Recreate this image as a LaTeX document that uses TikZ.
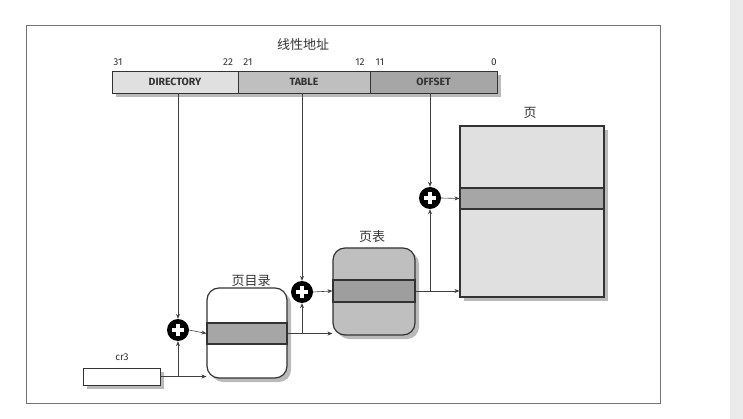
\documentclass[tikz,border=0pt]{standalone}
\usepackage{fontspec}
\setmainfont{Fira Sans}
\newfontfamily\cjk{Noto Sans CJK SC}
\usetikzlibrary{shadows,arrows.meta}
\definecolor{inkgray}{gray}{0.2}
\tikzset{
  bitno/.style={text=inkgray,font=\fontsize{10}{11}\selectfont,inner sep=0pt},
  field/.style={draw=inkgray,line width=0.9pt,minimum height=22pt,inner sep=0pt,
    text=inkgray,font=\bfseries\fontsize{10.5}{11}\selectfont},
  tblbox/.style={draw=inkgray,line width=1.2pt,inner sep=0pt,
    drop shadow={shadow xshift=4pt,shadow yshift=-4pt,fill=black!60,opacity=0.45}},
  tblrow/.style={draw=inkgray,line width=1.1pt,inner sep=0pt,fill=black!35},
  cjklabel/.style={text=inkgray,font=\cjk\fontsize{13}{14}\selectfont,inner sep=0pt},
  adder/.style={circle,fill=black,minimum size=22pt,inner sep=0pt,
    path picture={
      \draw[white,line width=3.8pt] ([xshift=-6pt]path picture bounding box.center) -- ([xshift=6pt]path picture bounding box.center);
      \draw[white,line width=3.8pt] ([yshift=-6pt]path picture bounding box.center) -- ([yshift=6pt]path picture bounding box.center);}},
  link/.style={draw=black!75,line width=0.6pt},
  linkto/.style={link,-{Stealth[length=5pt,width=4pt]}}
}
\begin{document}
\begin{tikzpicture}[x=1pt,y=-1pt]
\useasboundingbox (0,0) rectangle (743,419);
% page edge and frame
\fill[black!8] (730,0) rectangle (743,419);
\draw[black!55,line width=0.6pt] (26,25) rectangle (660,403);

% linear address
\node[cjklabel] (title) at (303,45) {线性地址};
\node[draw=none,minimum width=385pt,minimum height=22pt,inner sep=0pt,
  drop shadow={shadow xshift=4pt,shadow yshift=-4pt,fill=black!60,opacity=0.45},fill=white]
  (addr) at (304.5,82) {};
\node[field,fill=black!12,minimum width=126pt] (dirf) at (175,82) {DIRECTORY};
\node[field,fill=black!25,minimum width=132pt] (tabf) at (304,82) {TABLE};
\node[field,fill=black!35,minimum width=127pt] (offf) at (433.5,82) {OFFSET};
\node[bitno] (b31) at (118,62) {31};
\node[bitno] (b22) at (228,62) {22};
\node[bitno] (b21) at (248,62) {21};
\node[bitno] (b12) at (360,62) {12};
\node[bitno] (b11) at (380,62) {11};
\node[bitno] (b0) at (494,62) {0};

% cr3
\node[tblbox,fill=white,line width=0.9pt,minimum width=77pt,minimum height=17pt] (cr3) at (121.5,376.5) {};
\node[bitno] (cr3lbl) at (122,357) {cr3};

% page directory
\node[tblbox,fill=white,rounded corners=12pt,minimum width=80pt,minimum height=90pt] (pd) at (247,333) {};
\node[tblrow,minimum width=80pt,minimum height=21pt] (pdrow) at (247,333.5) {};
\node[cjklabel] (pdlbl) at (251,281) {页目录};

% page table
\node[tblbox,fill=black!25,rounded corners=12pt,minimum width=82pt,minimum height=87pt] (pt) at (374,291.5) {};
\node[tblrow,fill=black!38,minimum width=82pt,minimum height=22pt] (ptrow) at (374,291) {};
\node[cjklabel] (ptlbl) at (372,237) {页表};

% page
\node[tblbox,fill=black!12,minimum width=144pt,minimum height=171pt] (pg) at (532,211.5) {};
\node[tblrow,minimum width=144pt,minimum height=21pt] (pgrow) at (532,198.5) {};
\node[cjklabel] (pglbl) at (530,113) {页};

% adders
\node[adder] (add1) at (178,330) {};
\node[adder] (add2) at (302,292) {};
\node[adder] (add3) at (430,198) {};

% connectors
\draw[linkto] (add1 |- dirf.south) -- (add1.north);
\draw[linkto] (add2 |- tabf.south) -- (add2.north);
\draw[linkto] (add3 |- offf.south) -- (add3.north);

\draw[linkto] (cr3.east) -- (pd.west |- cr3.east);
\draw[linkto] (add1 |- cr3.east) -- (add1.south);
\draw[linkto] (add1.east) -- (pdrow.west);

\draw[linkto] (pdrow.east) -- (pt.west |- pdrow.east);
\draw[linkto] (add2 |- pdrow.east) -- (add2.south);
\draw[linkto] (add2.east) -- (ptrow.west);

\draw[linkto] (ptrow.east) -- (pg.west |- ptrow.east);
\draw[linkto] (add3 |- ptrow.east) -- (add3.south);
\draw[linkto] (add3.east) -- (pgrow.west);
\end{tikzpicture}
\end{document}
